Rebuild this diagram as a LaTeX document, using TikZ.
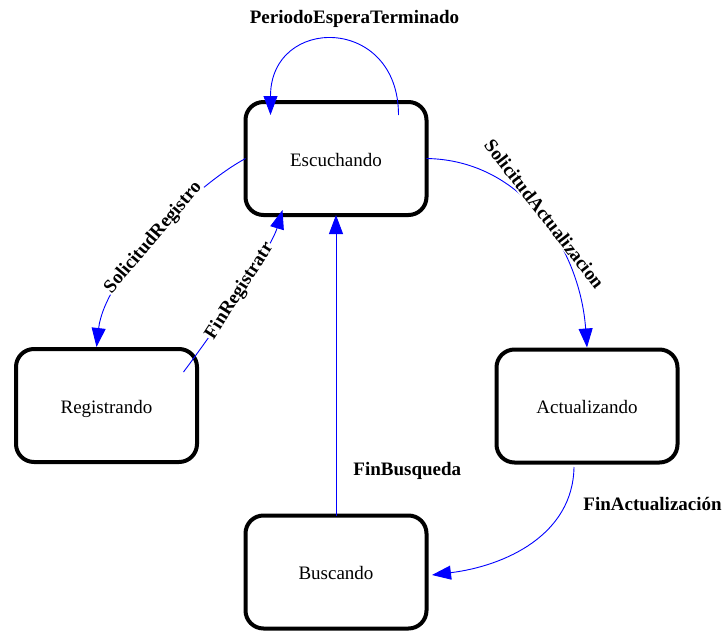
\documentclass[tikz,border=0pt]{standalone}
\usepackage{fontspec}
\setmainfont{Liberation Serif}
\usetikzlibrary{arrows.meta}
\begin{document}
\begin{tikzpicture}[x=1pt,y=-1pt,
  state/.style={draw=black, line width=4pt, rounded corners=18pt,
    minimum width=181pt, minimum height=113pt, inner sep=0pt, outer sep=0pt,
    font=\fontsize{19}{22}\selectfont, text height=15pt, text depth=0pt},
  trans/.style={draw=blue, line width=0.9pt, -{Triangle[length=19pt,width=14pt]}},
  lbl/.style={font=\fontsize{19}{22}\selectfont\bfseries, inner sep=1pt, text=black},
  cut/.style={lbl, fill=white, sloped}]
\useasboundingbox (0,0) rectangle (724,632);

% states
\node[state] (esc) at (336,158.5) {Escuchando};
\node[state] (reg) at (106.5,405.5) {Registrando};
\node[state] (act) at (587,406) {Actualizando};
\node[state] (bus) at (336,572) {Buscando};

% transitions
\draw[trans] ([shift={(62.5,13)}]esc.north)
  .. controls +(0,-100) and +(0,-100) .. ([shift={(-65.5,13)}]esc.north)
  node[lbl, pos=0.5, anchor=base, shift={(20,-17)}] {PeriodoEsperaTerminado};

\draw[trans] (esc.west)
  .. controls +(-55,30) and +(8,-70) .. ([shift={(-10,-2)}]reg.north)
  node[cut, pos=0.5] {SolicitudRegistro};

\draw[trans] ([shift={(77,-33.5)}]reg.center)
  .. controls +(30,-40) and +(-12,40) .. ([shift={(-53.5,-5)}]esc.south)
  node[cut, pos=0.5] {FinRegistratr};

\draw[trans] (bus.north) -- (esc.south)
  node[lbl, pos=0, anchor=base west, shift={(16,-40.5)}] {FinBusqueda};

\draw[trans] (esc.east)
  .. controls +(97,1.5) and +(-7,-97.5) .. ([shift={(0,-2)}]act.north)
  node[cut, pos=0.5, yshift=5pt] {SolicitudActualizacion};

\draw[trans] ([shift={(-13,4.5)}]act.south)
  .. controls +(-1,68) and +(73,-9) .. ([shift={(5.5,3)}]bus.east)
  node[lbl, pos=0, anchor=base west, shift={(8,43)}] {FinActualización};
\end{tikzpicture}
\end{document}
